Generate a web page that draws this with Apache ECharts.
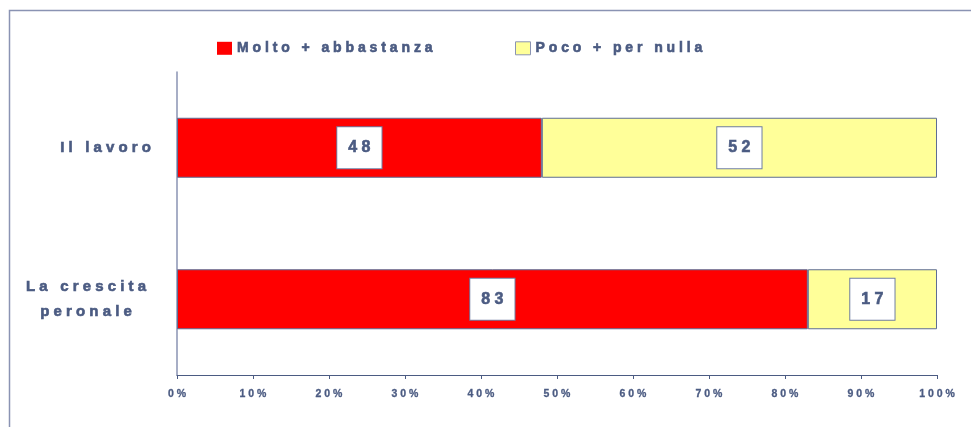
<!DOCTYPE html>
<html>
<head>
<meta charset="utf-8">
<script src="https://cdn.jsdelivr.net/npm/echarts@6/dist/echarts.min.js"></script>
<style>
  html, body { margin: 0; padding: 0; background: #fff; }
  #chart { width: 971px; height: 427px; }
</style>
</head>
<body>
<div id="chart"></div>
<script>
// Categories (top to bottom) and the two answer groups, in percent
const categories = ['Il lavoro', 'La crescita\nperonale'];
const seriesNames = ['Molto + abbastanza', 'Poco + per nulla'];
const moltoValues = [48, 83];
const pocoValues = [52, 17];
const tickValues = [0, 10, 20, 30, 40, 50, 60, 70, 80, 90, 100];

const TEXT = '#4b5b82';
const FONT = '"Liberation Sans", Arial, sans-serif';

// Wide tracking: put a space between every character of a line
function spaced(s) {
  return s.split('\n').map(line => line.split('').join(' ')).join('\n');
}

// Heavy text: bold plus a thin outline in the same colour
function heavy(size, extra) {
  return Object.assign({
    fontFamily: FONT, fontSize: size, fontWeight: 'bold', color: TEXT,
    textBorderColor: TEXT, textBorderWidth: 0.6
  }, extra || {});
}

const chart = echarts.init(document.getElementById('chart'));

const labelStyle = Object.assign({
  show: true,
  position: 'inside',
  formatter: p => spaced(String(p.value)),
  backgroundColor: '#ffffff',
  borderColor: '#6f7ea3',
  borderWidth: 1,
  padding: [13, 11, 12, 11]
}, heavy(16));

const legendBase = {
  padding: 0,
  itemWidth: 15, itemHeight: 13, itemGap: 6,
  icon: 'rect',
  formatter: n => spaced(n),
  textStyle: heavy(14)
};

chart.setOption({
  animation: false,
  textStyle: { fontFamily: FONT },
  graphic: [{
    type: 'rect',
    shape: { x: 9.5, y: 10.5, width: 1100, height: 600 },
    style: { fill: 'none', stroke: '#8a93b3', lineWidth: 1.5 },
    silent: true
  }],
  legend: [
    Object.assign({ data: [{ name: seriesNames[0], itemStyle: { borderWidth: 0 } }], left: 217, top: 41 }, legendBase),
    Object.assign({ data: [{ name: seriesNames[1], itemStyle: { borderColor: '#8a93b3', borderWidth: 1 } }], left: 515, top: 41 }, legendBase)
  ],
  grid: { left: 177, right: 34, top: 72, bottom: 52, containLabel: false },
  xAxis: {
    type: 'value',
    min: tickValues[0],
    max: tickValues[tickValues.length - 1],
    interval: tickValues[1] - tickValues[0],
    splitLine: { show: false },
    axisLine: { show: true, lineStyle: { color: '#4b5b82', width: 1 } },
    axisTick: { show: true, length: 4, lineStyle: { color: '#4b5b82' } },
    axisLabel: Object.assign({
      margin: 14,
      formatter: v => spaced(v + '%')
    }, heavy(10.5, { textBorderWidth: 0.3 }))
  },
  yAxis: {
    type: 'category',
    data: categories,
    inverse: true,
    axisLine: { show: true, lineStyle: { color: '#8a93b3', width: 1.5 } },
    axisTick: { show: false },
    axisLabel: Object.assign({
      margin: 26,
      formatter: v => {
        const lines = v.split('\n');
        if (lines.length === 1) return spaced(v);
        return lines.map(l => '{c|' + spaced(l) + '}').join('\n');
      },
      rich: {
        c: heavy(15, { align: 'center', width: 130, lineHeight: 25 })
      },
      lineHeight: 25
    }, heavy(15))
  },
  series: [
    {
      name: seriesNames[0],
      type: 'bar',
      stack: 'tot',
      data: moltoValues,
      barWidth: 60,
      itemStyle: { color: '#ff0000', borderColor: '#5e6d94', borderWidth: 1 },
      label: labelStyle
    },
    {
      name: seriesNames[1],
      type: 'bar',
      stack: 'tot',
      data: pocoValues,
      barWidth: 60,
      itemStyle: { color: '#ffff99', borderColor: '#5e6d94', borderWidth: 1 },
      label: labelStyle
    }
  ]
});
</script>
</body>
</html>
